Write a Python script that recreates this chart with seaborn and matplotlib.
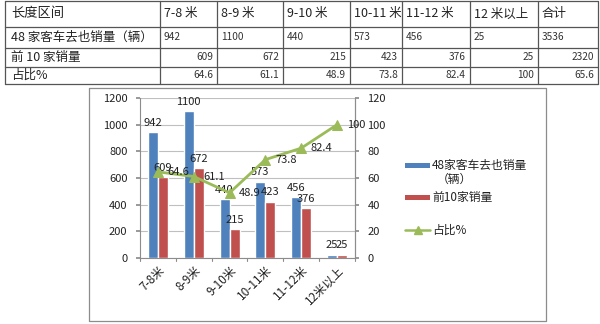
import matplotlib
matplotlib.use("Agg")
import matplotlib.pyplot as plt
import seaborn as sns
import pandas as pd
from matplotlib.patches import Rectangle

sns.set_theme(style="white")
plt.rcParams['font.family'] = ['Noto Sans CJK SC', 'DejaVu Sans']

# 数据
categories = ["7-8米", "8-9米", "9-10米", "10-11米", "11-12米", "12米以上"]
table_headers = ["7-8 米", "8-9 米", "9-10 米", "10-11 米", "11-12 米", "12 米以上", "合计"]
total_sales = [942, 1100, 440, 573, 456, 25]
top10_sales = [609, 672, 215, 423, 376, 25]
share_pct = [64.6, 61.1, 48.9, 73.8, 82.4, 100]
total_sum = 3536
top10_sum = 2320
share_all = 65.6

row_names = ["长度区间", "48 家客车去也销量（辆）", "前 10 家销量", "占比%"]
series_names = ["48家客车去也销量", "前10家销量", "占比%"]
series_note = "（辆）"

blue = "#4F81BD"
red = "#C0504D"
green = "#9BBB59"
grid_c = "#BFBFBF"
axis_c = "#8C8C8C"
text_c = "#222222"

fig = plt.figure(figsize=(6, 3.24), dpi=100)

# 背景层：表格、图表外框与图例（像素坐标）
bg = fig.add_axes([0, 0, 1, 1], zorder=0)
bg.set_xlim(0, 600)
bg.set_ylim(324, 0)
bg.axis("off")

col_x = [5, 160, 217, 283, 350, 402, 470, 538, 598]
row_y = [1, 27, 48, 67, 84]
for y in row_y:
    bg.plot([col_x[0], col_x[-1]], [y, y], color="#555555", lw=0.9)
for x in col_x:
    bg.plot([x, x], [row_y[0], row_y[-1]], color="#555555", lw=0.9)

# 表头
bg.text(col_x[0] + 6, (row_y[0] + row_y[1]) / 2, row_names[0], fontsize=9.5,
        va="center", ha="left", color=text_c)
for j, h in enumerate(table_headers):
    bg.text(col_x[j + 1] + 4, (row_y[0] + row_y[1]) / 2, h, fontsize=9,
            va="center", ha="left", color=text_c)

# 数据行
row_vals = [
    total_sales + [total_sum],
    top10_sales + [top10_sum],
    [f"{v}" for v in share_pct] + [f"{share_all}"],
]
for r in range(3):
    yc = (row_y[r + 1] + row_y[r + 2]) / 2
    bg.text(col_x[0] + 6, yc, row_names[r + 1], fontsize=9, va="center",
            ha="left", color=text_c)
    for j, v in enumerate(row_vals[r]):
        if r == 0:
            bg.text(col_x[j + 1] + 4, yc, str(v), fontsize=7.3, va="center",
                    ha="left", color="#333333")
        else:
            bg.text(col_x[j + 2] - 4, yc, str(v), fontsize=7.3, va="center",
                    ha="right", color="#333333")

# 图表外框
bg.plot([89, 546, 546, 89, 89], [88, 88, 321, 321, 88], color=axis_c, lw=0.9)

# 图例
bg.add_patch(Rectangle((405, 163), 25, 4.5, facecolor=blue, edgecolor="none"))
bg.add_patch(Rectangle((405, 195), 25, 4.5, facecolor=red, edgecolor="none"))
bg.plot([405, 430], [230, 230], color=green, lw=1.8)
bg.plot([417.5], [230], color=green, marker="^", markersize=6, lw=0)
bg.text(432, 165, series_names[0], fontsize=8.5, va="center", ha="left", color=text_c)
bg.text(437, 179, series_note, fontsize=8.5, va="center", ha="left", color=text_c)
bg.text(432, 197, series_names[1], fontsize=8.5, va="center", ha="left", color=text_c)
bg.text(432, 230, series_names[2], fontsize=8.5, va="center", ha="left", color=text_c)

# 柱状图
df = pd.DataFrame({
    "长度": categories * 2,
    "销量": total_sales + top10_sales,
    "系列": [series_names[0]] * len(categories) + [series_names[1]] * len(categories),
})

ax = fig.add_axes([140 / 600, 1 - 258 / 324, 215 / 600, 160 / 324], zorder=2)
ax.patch.set_alpha(0)
sns.barplot(data=df, x="长度", y="销量", hue="系列", palette=[blue, red],
            width=0.56, saturation=1, ax=ax, legend=False)
ax.set_ylim(0, 1200)
ax.set_yticks(range(0, 1201, 200))
ax.set_xlim(-0.5, len(categories) - 0.5)
ax.yaxis.grid(True, color=grid_c, lw=0.8)
ax.set_axisbelow(True)
ax.set_xlabel("")
ax.set_ylabel("")
for c in ax.containers:
    ax.bar_label(c, padding=3, fontsize=8, color=text_c)

ax.spines["top"].set_visible(False)
for s in ["left", "right", "bottom"]:
    ax.spines[s].set_color(axis_c)
    ax.spines[s].set_linewidth(0.8)
ax.tick_params(axis="y", labelsize=8, colors=text_c, length=3, pad=6,
               direction="out", left=True, color=axis_c)
ax.set_xticks(range(len(categories)))
ax.set_xticklabels(categories, rotation=45, ha="right", rotation_mode="anchor",
                   fontsize=8.5, color=text_c)
ax.tick_params(axis="x", length=0, pad=4)
for k in range(len(categories) + 1):
    ax.plot([k - 0.5, k - 0.5], [0, -0.02], transform=ax.get_xaxis_transform(),
            color=axis_c, lw=0.8, clip_on=False)

# 占比折线（次坐标轴）
ax2 = ax.twinx()
sns.lineplot(x=list(range(len(categories))), y=share_pct, color=green, lw=2,
             marker="^", markersize=7, markeredgecolor=green, ax=ax2)
ax2.set_ylim(0, 120)
ax2.set_yticks(range(0, 121, 20))
ax2.tick_params(axis="y", labelsize=8, colors=text_c, length=3, pad=6,
                direction="out", right=True, color=axis_c)
for s in ["top", "left", "bottom"]:
    ax2.spines[s].set_visible(False)
ax2.spines["right"].set_color(axis_c)
ax2.spines["right"].set_linewidth(0.8)
for i, v in enumerate(share_pct):
    ax2.annotate(f"{v}", (i, v), xytext=(7, 0), textcoords="offset points",
                 va="center", ha="left", fontsize=8, color=text_c)

fig.savefig("out.png", dpi=100)
